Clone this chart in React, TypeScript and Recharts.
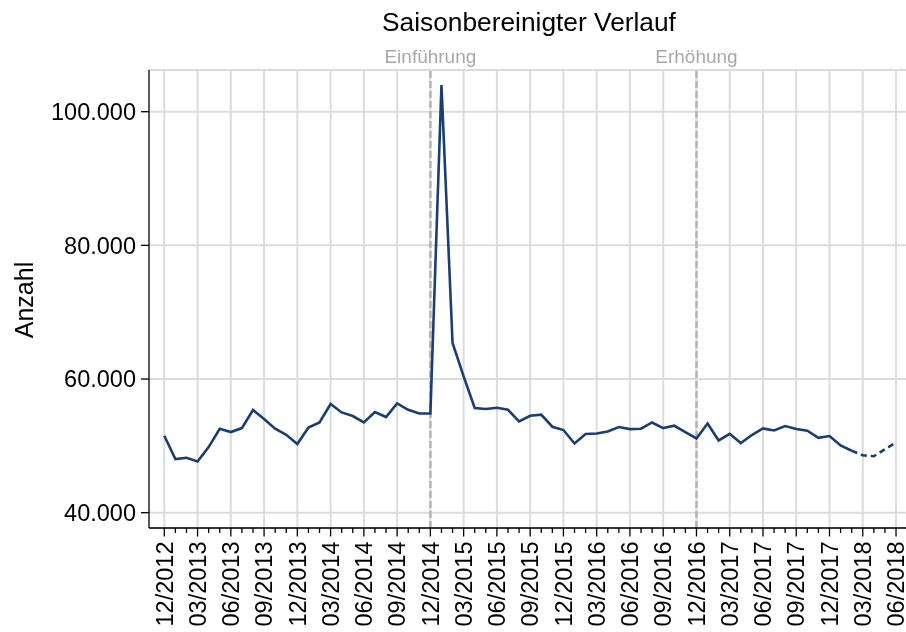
import React from 'react';
import { LineChart, Line, XAxis, YAxis, CartesianGrid, ReferenceLine } from 'recharts';

// Monthly values, 12/2012 (index 0) .. 02/2018 (index 62): observed, seasonally adjusted
const actualValues: number[] = [
  51510, 48020, 48220, 47660, 49820, 52560, 52070, 52660, 55360, 54010,
  52560, 51660, 50270, 52750, 53500, 56260, 55000, 54460, 53500, 55060,
  54310, 56350, 55400, 54850, 54850, 104000, 65390, 60400, 55660, 55510,
  55700, 55400, 53650, 54510, 54660, 52860, 52370, 50360, 51770, 51860,
  52160, 52810, 52510, 52560, 53500, 52660, 53010, 52070, 51110, 53350,
  50810, 51810, 50420, 51620, 52600, 52310, 52960, 52510, 52260, 51210,
  51470, 50060, 49270,
];
// Forecast, 02/2018 (index 62) .. 06/2018 (index 66)
const forecastStart = 62;
const forecastValues: number[] = [49270, 48590, 48440, 49490, 50500];

const tickLabels: string[] = [
  '12/2012', '03/2013', '06/2013', '09/2013', '12/2013', '03/2014', '06/2014', '09/2014',
  '12/2014', '03/2015', '06/2015', '09/2015', '12/2015', '03/2016', '06/2016', '09/2016',
  '12/2016', '03/2017', '06/2017', '09/2017', '12/2017', '03/2018', '06/2018',
];
const yTicks: number[] = [40000, 60000, 80000, 100000];
const events = [
  { idx: 24, label: 'Einführung' },
  { idx: 48, label: 'Erhöhung' },
];

const X_MIN = -1.38;
const X_MAX = 66.9;
const Y_MIN = 37710;
const Y_MAX = 106240;

const monthCount = forecastStart + forecastValues.length;
const data = Array.from({ length: monthCount }, (_, i) => ({
  idx: i,
  actual: i < actualValues.length ? actualValues[i] : null,
  forecast: i >= forecastStart ? forecastValues[i - forecastStart] : null,
}));
const monthTicks = data.map((d) => d.idx);
const quarterTicks = monthTicks.filter((v) => v % 3 === 0);

const FONT = '"Liberation Sans", Arial, Helvetica, sans-serif';
const LINE_COLOR = '#1b3e72';

const fmt = (v: number) => {
  const s = Math.round(v).toString();
  return s.replace(/\B(?=(\d{3})+(?!\d))/g, '.');
};

const XTick = (props: any) => {
  const { x, y, payload } = props;
  const v = payload.value as number;
  const major = v % 3 === 0;
  const label = major ? tickLabels[v / 3] : null;
  return (
    <g>
      <line x1={x} y1={y} x2={x} y2={y + (major ? 8.5 : 5)} stroke="#000" strokeWidth={1.3} />
      {label && (
        <text
          transform={`translate(${x},${y + 13.5}) rotate(-90)`}
          textAnchor="end"
          dy="0.35em"
          fontSize={23.5}
          fontFamily={FONT}
          fill="#000"
        >
          {label}
        </text>
      )}
    </g>
  );
};

const vertGen = (props: any) => {
  const s = props?.xAxis?.scale;
  if (typeof s === 'function') return quarterTicks.map((v) => s(v));
  const o = props.offset;
  return quarterTicks.map((v) => o.left + ((v - X_MIN) / (X_MAX - X_MIN)) * o.width);
};

export default function App() {
  return (
    <div style={{ position: 'fixed', left: 8, top: 8, width: 898, height: 624 }}>
      <LineChart
        width={898}
        height={624}
        data={data}
        margin={{ top: 62, right: 0, bottom: 0, left: 0 }}
      >
        <CartesianGrid
          stroke="#dcdcdc"
          strokeWidth={2}
          verticalCoordinatesGenerator={vertGen}
        />
        <XAxis
          dataKey="idx"
          type="number"
          domain={[X_MIN, X_MAX]}
          ticks={monthTicks}
          interval={0}
          allowDataOverflow
          height={104}
          tickSize={0}
          tickMargin={0}
          tickLine={false}
          axisLine={{ stroke: '#000', strokeWidth: 1.3 }}
          tick={<XTick />}
        />
        <YAxis
          type="number"
          domain={[Y_MIN, Y_MAX]}
          ticks={yTicks}
          allowDataOverflow
          width={141}
          tickSize={8}
          tickMargin={5}
          tickFormatter={fmt}
          tickLine={{ stroke: '#000', strokeWidth: 1.3 }}
          axisLine={{ stroke: '#000', strokeWidth: 1.3 }}
          tick={{ fill: '#000', fontSize: 23.5, fontFamily: FONT }}
        />
        {events.map((e) => (
          <ReferenceLine
            key={e.label}
            x={e.idx}
            stroke="#b4b4b4"
            strokeWidth={2.5}
            strokeDasharray="7 3"
            label={{
              value: e.label,
              position: 'top',
              offset: 7,
              fill: '#a8a8a8',
              fontSize: 19,
              fontFamily: FONT,
            }}
          />
        ))}
        <Line
          dataKey="actual"
          stroke={LINE_COLOR}
          strokeWidth={2.6}
          dot={false}
          activeDot={false}
          connectNulls={false}
          isAnimationActive={false}
        />
        <Line
          dataKey="forecast"
          stroke={LINE_COLOR}
          strokeWidth={2.6}
          strokeDasharray="6 4"
          dot={false}
          activeDot={false}
          connectNulls={false}
          isAnimationActive={false}
        />
      </LineChart>
      <svg
        width={898}
        height={624}
        style={{ position: 'absolute', left: 0, top: 0, pointerEvents: 'none' }}
      >
        <text x={521} y={23} textAnchor="middle" fontSize={26.3} fontFamily={FONT} fill="#000">
          Saisonbereinigter Verlauf
        </text>
        <text
          transform="translate(25,292) rotate(-90)"
          textAnchor="middle"
          fontSize={25}
          fontFamily={FONT}
          fill="#000"
        >
          Anzahl
        </text>
      </svg>
    </div>
  );
}
